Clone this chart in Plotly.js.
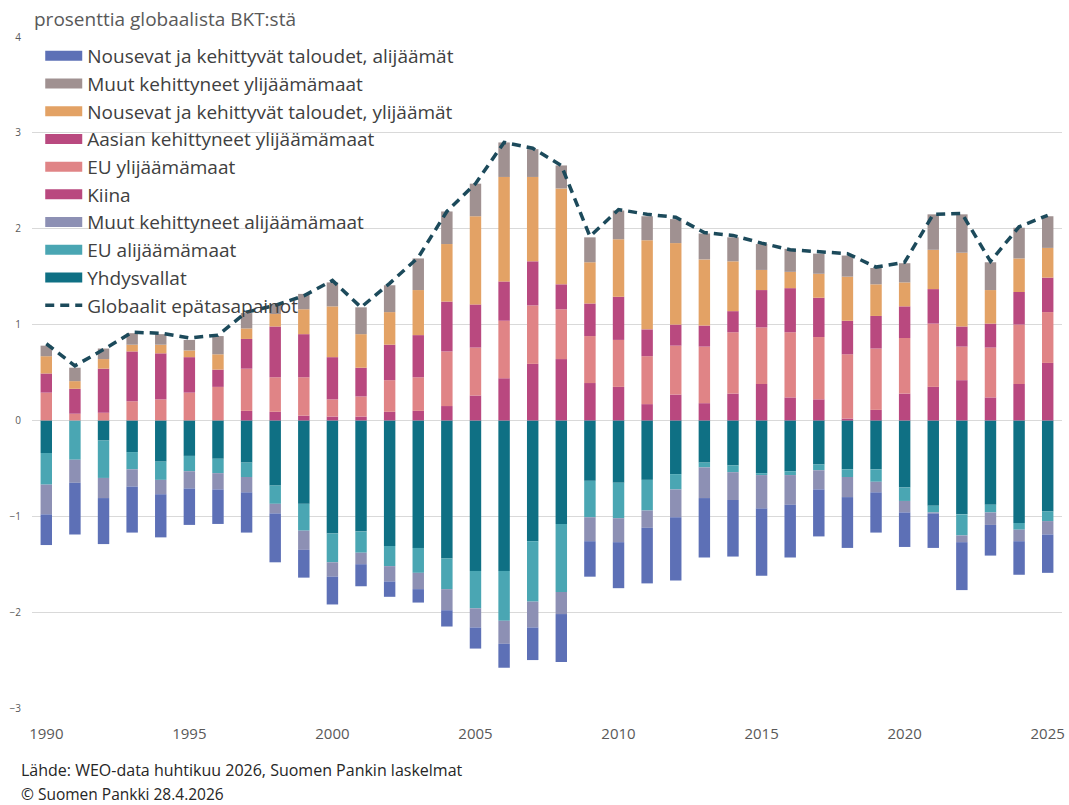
<!DOCTYPE html>
<html>
<head>
<meta charset="utf-8">
<script src="https://cdn.plot.ly/plotly-3.0.1.min.js"></script>
<style>
  html, body { margin: 0; padding: 0; background: #ffffff; }
  #chart { width: 1069px; height: 805px; }
</style>
</head>
<body>
<div id="chart"></div>
<script>
const years = [1990,1991,1992,1993,1994,1995,1996,1997,1998,1999,2000,2001,2002,2003,2004,2005,2006,2007,2008,2009,2010,2011,2012,2013,2014,2015,2016,2017,2018,2019,2020,2021,2022,2023,2024,2025];

// positive side (surplus), stacked from zero upward
const kiina   = [0,0,0,0,0,0,0,0.10,0.09,0.05,0.04,0.04,0.09,0.10,0.15,0.26,0.44,0.59,0.64,0.39,0.35,0.17,0.27,0.18,0.28,0.38,0.24,0.22,0.02,0.11,0.28,0.35,0.42,0.24,0.38,0.60];
const euYli   = [0.29,0.07,0.08,0.20,0.22,0.29,0.35,0.44,0.36,0.40,0.18,0.21,0.33,0.35,0.57,0.50,0.60,0.61,0.52,0.49,0.49,0.50,0.51,0.59,0.64,0.59,0.68,0.65,0.67,0.64,0.58,0.66,0.35,0.52,0.62,0.53];
const aasia   = [0.20,0.26,0.46,0.52,0.48,0.37,0.18,0.31,0.53,0.45,0.44,0.30,0.37,0.44,0.52,0.45,0.41,0.46,0.26,0.34,0.45,0.28,0.22,0.22,0.22,0.39,0.46,0.41,0.35,0.34,0.33,0.36,0.21,0.25,0.34,0.36];
const nousYli = [0.18,0.08,0.10,0.07,0.09,0.07,0.16,0.11,0.13,0.26,0.53,0.35,0.34,0.47,0.60,0.92,1.09,0.88,1.00,0.43,0.60,0.93,0.85,0.69,0.52,0.21,0.17,0.25,0.46,0.33,0.25,0.41,0.77,0.35,0.35,0.31];
const muutYli = [0.11,0.14,0.11,0.12,0.11,0.11,0.19,0.16,0.10,0.16,0.25,0.28,0.28,0.33,0.34,0.34,0.36,0.29,0.24,0.26,0.30,0.25,0.25,0.27,0.25,0.27,0.24,0.21,0.22,0.17,0.20,0.37,0.40,0.29,0.32,0.33];

// negative side (deficit), stacked from zero downward
const yhdysvallat = [-0.34,0,-0.21,-0.33,-0.43,-0.37,-0.40,-0.44,-0.68,-0.87,-1.18,-1.16,-1.31,-1.33,-1.44,-1.57,-1.57,-1.26,-1.08,-0.63,-0.65,-0.62,-0.56,-0.44,-0.47,-0.55,-0.53,-0.46,-0.51,-0.51,-0.70,-0.89,-0.98,-0.88,-1.07,-0.95];
const euAli   = [-0.33,-0.41,-0.39,-0.18,-0.19,-0.16,-0.15,-0.15,-0.19,-0.28,-0.30,-0.22,-0.21,-0.26,-0.32,-0.39,-0.52,-0.63,-0.71,-0.38,-0.37,-0.32,-0.16,-0.05,-0.07,-0.02,-0.04,-0.06,-0.08,-0.13,-0.14,-0.07,-0.22,-0.08,-0.07,-0.10];
const muutAli = [-0.31,-0.24,-0.21,-0.18,-0.15,-0.18,-0.17,-0.16,-0.10,-0.20,-0.15,-0.12,-0.16,-0.17,-0.22,-0.20,-0.24,-0.27,-0.23,-0.25,-0.25,-0.18,-0.29,-0.32,-0.29,-0.35,-0.31,-0.20,-0.21,-0.11,-0.12,-0.01,-0.07,-0.13,-0.12,-0.14];
const nousAli = [-0.32,-0.54,-0.48,-0.48,-0.45,-0.38,-0.36,-0.42,-0.51,-0.29,-0.29,-0.23,-0.16,-0.14,-0.17,-0.22,-0.25,-0.34,-0.50,-0.37,-0.48,-0.58,-0.66,-0.62,-0.59,-0.70,-0.55,-0.49,-0.53,-0.42,-0.36,-0.36,-0.50,-0.32,-0.35,-0.40];

// global imbalances line
const globaalit = [0.80,0.57,0.74,0.92,0.91,0.86,0.89,1.13,1.20,1.30,1.46,1.18,1.43,1.70,2.18,2.47,2.90,2.84,2.66,1.92,2.20,2.15,2.12,1.96,1.93,1.85,1.78,1.76,1.74,1.60,1.65,2.15,2.16,1.66,2.02,2.14];

const tickYears = [1990,1995,2000,2005,2010,2015,2020,2025];

// series in stacking order: [name, values, colour]
const series = [
  ['Yhdysvallat', yhdysvallat, '#0f7084'],
  ['EU alijäämämaat', euAli, '#4aa6b3'],
  ['Muut kehittyneet alijäämämaat', muutAli, '#8d90b4'],
  ['Kiina', kiina, '#b9487f'],
  ['EU ylijäämämaat', euYli, '#e08486'],
  ['Aasian kehittyneet ylijäämämaat', aasia, '#b9497f'],
  ['Nousevat ja kehittyvät taloudet, ylijäämät', nousYli, '#e3a265'],
  ['Muut kehittyneet ylijäämämaat', muutYli, '#a09191'],
  ['Nousevat ja kehittyvät taloudet, alijäämät', nousAli, '#5d70b6']
];
const legendOrder = [
  'Nousevat ja kehittyvät taloudet, alijäämät',
  'Muut kehittyneet ylijäämämaat',
  'Nousevat ja kehittyvät taloudet, ylijäämät',
  'Aasian kehittyneet ylijäämämaat',
  'EU ylijäämämaat',
  'Kiina',
  'Muut kehittyneet alijäämämaat',
  'EU alijäämämaat',
  'Yhdysvallat'
];

const traces = [];
series.forEach(([name, vals, color]) => {
  traces.push({
    type: 'bar', x: years, y: vals, name: name, legendgroup: name,
    showlegend: false, width: 0.4,
    marker: { color: color, line: { width: 0 } },
    hoverinfo: 'x+y+name'
  });
});
// legend swatches (wide rectangles like the original)
legendOrder.forEach((name, i) => {
  const color = series.find(s => s[0] === name)[2];
  traces.push({
    type: 'scatter', mode: 'lines', x: [null], y: [null], name: name,
    legendgroup: name, legendrank: i + 1, showlegend: true,
    line: { color: color, width: 10 }, hoverinfo: 'skip'
  });
});
traces.push({
  type: 'scatter', mode: 'lines', x: years, y: globaalit,
  name: 'Globaalit epätasapainot', legendrank: 20,
  line: { color: '#1c4a5b', width: 3.5, dash: '9px,6px' }
});

const FONT = '"Open Sans", "Noto Sans", sans-serif';

const layout = {
  width: 1069, height: 805,
  paper_bgcolor: '#ffffff', plot_bgcolor: '#ffffff',
  margin: { l: 32, r: 7, t: 37, b: 97 },
  barmode: 'relative',
  font: { family: FONT, color: '#595959' },
  xaxis: {
    range: [1989.5, 2025.5], tickmode: 'array', tickvals: tickYears,
    ticktext: tickYears.map(String),
    showgrid: false, zeroline: false, showline: false, ticks: '',
    tickfont: { size: 15, color: '#595959', family: FONT },
    ticklabelstandoff: 15
  },
  yaxis: {
    range: [-3, 4], dtick: 1, showgrid: true, gridcolor: '#d9d9d9', gridwidth: 1,
    zeroline: true, zerolinecolor: '#d9d9d9', zerolinewidth: 1,
    showline: false, ticks: '',
    tickfont: { size: 10, color: '#595959', family: FONT },
    ticklabelstandoff: 10
  },
  legend: {
    x: 0.008, y: 1.0, xanchor: 'left', yanchor: 'top',
    bgcolor: 'rgba(0,0,0,0)', traceorder: 'normal',
    font: { size: 19, color: '#404040', family: FONT },
    itemwidth: 37, tracegroupgap: 0
  },
  annotations: [
    { text: 'prosenttia globaalista BKT:stä', xref: 'paper', yref: 'paper',
      x: 0, y: 1, xanchor: 'left', yanchor: 'bottom', yshift: 3, xshift: 0,
      showarrow: false, font: { size: 19, color: '#595959', family: FONT } },
    { text: 'Lähde: WEO-data huhtikuu 2026, Suomen Pankin laskelmat', xref: 'paper', yref: 'paper',
      x: 0, y: 0, xanchor: 'left', yanchor: 'middle', xshift: -13, yshift: -62,
      showarrow: false, font: { size: 16, color: '#262626', family: FONT } },
    { text: '© Suomen Pankki 28.4.2026', xref: 'paper', yref: 'paper',
      x: 0, y: 0, xanchor: 'left', yanchor: 'middle', xshift: -13, yshift: -86,
      showarrow: false, font: { size: 15.5, color: '#262626', family: FONT } }
  ],
  showlegend: true
};

Plotly.newPlot('chart', traces, layout, { displayModeBar: false, staticPlot: true });
</script>
</body>
</html>
